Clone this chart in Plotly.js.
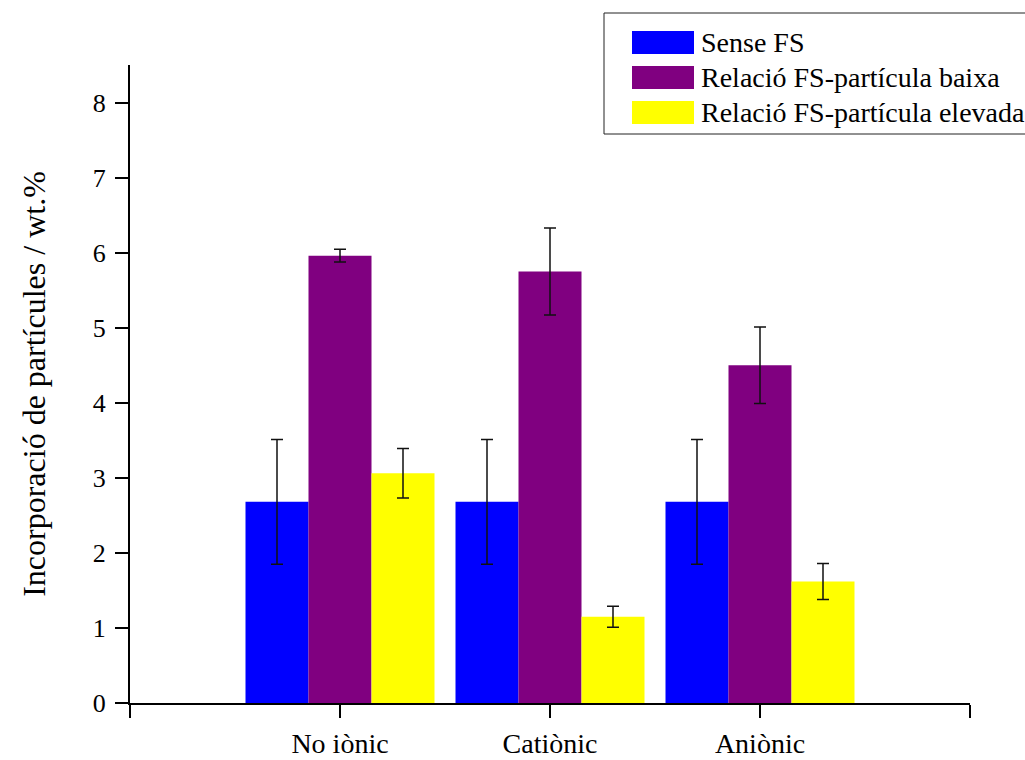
<!DOCTYPE html>
<html>
<head>
<meta charset="utf-8">
<script src="https://cdn.plot.ly/plotly-3.0.1.min.js"></script>
<style>
  html, body { margin: 0; padding: 0; background: #fff; }
  #chart { width: 1025px; height: 760px; }
</style>
</head>
<body>
<div id="chart"></div>
<script>
// Particle incorporation (wt.%) by surfactant type
const categories = ['No iònic', 'Catiònic', 'Aniònic'];
const seriesNames = ['Sense FS', 'Relació FS-partícula baixa', 'Relació FS-partícula elevada'];
const seriesColors = ['#0000ff', '#800080', '#ffff00'];

const senseFS = [2.68, 2.68, 2.68];
const senseFSErr = [0.83, 0.83, 0.83];

const baixa = [5.96, 5.75, 4.50];
const baixaErr = [0.085, 0.58, 0.51];

const elevada = [3.06, 1.15, 1.62];
const elevadaErr = [0.33, 0.14, 0.24];

const values = [senseFS, baixa, elevada];
const errors = [senseFSErr, baixaErr, elevadaErr];

const FONT = 'Liberation Serif, Times New Roman, serif';

const traces = values.map((v, i) => ({
  type: 'bar',
  name: seriesNames[i],
  x: [0, 1, 2],
  y: v,
  marker: { color: seriesColors[i], line: { width: 0 } },
  error_y: { type: 'data', array: errors[i], visible: true, color: '#111', thickness: 1.5, width: 6 },
  showlegend: false,
  hoverinfo: 'skip'
}));

// Plot-area geometry, used to place the boxed legend in paper units
const W = 1025, H = 760;
const M = { l: 130, r: 55, t: 65, b: 57 };
const pw = W - M.l - M.r, ph = H - M.t - M.b;
const px = x => (x - M.l) / pw;
const py = y => (H - M.b - y) / ph;

const shapes = [{
  type: 'rect', xref: 'paper', yref: 'paper',
  x0: px(604), x1: px(1030), y0: py(134), y1: py(13),
  line: { color: '#222', width: 1 }, fillcolor: 'rgba(0,0,0,0)'
}];
const annotations = [];
const rowTop = [31, 66, 101];
seriesNames.forEach((name, i) => {
  shapes.push({
    type: 'rect', xref: 'paper', yref: 'paper',
    x0: px(632), x1: px(694), y0: py(rowTop[i] + 23), y1: py(rowTop[i]),
    line: { width: 0 }, fillcolor: seriesColors[i]
  });
  annotations.push({
    xref: 'paper', yref: 'paper', x: px(699), y: py(rowTop[i] + 11.5),
    xanchor: 'left', yanchor: 'middle', showarrow: false,
    text: name, font: { family: FONT, size: 28, color: '#000' }
  });
});

const layout = {
  width: W, height: H,
  margin: M,
  paper_bgcolor: '#fff', plot_bgcolor: '#fff',
  barmode: 'group', bargap: 0.1, bargroupgap: 0,
  font: { family: FONT, color: '#000' },
  xaxis: {
    range: [-1, 3],
    tickvals: [-1, 0, 1, 2, 3],
    ticktext: ['', categories[0], categories[1], categories[2], ''],
    ticks: 'outside', ticklen: 13, tickwidth: 2, tickcolor: '#000',
    ticklabelstandoff: 1,
    showline: true, linewidth: 2, linecolor: '#000',
    showgrid: false, zeroline: false,
    tickfont: { family: FONT, size: 28, color: '#000' },
    fixedrange: true
  },
  yaxis: {
    range: [0, 8.5],
    dtick: 1, tick0: 0,
    ticks: 'outside', ticklen: 13, tickwidth: 2, tickcolor: '#000',
    ticklabelstandoff: 4,
    showline: true, linewidth: 2, linecolor: '#000',
    showgrid: false, zeroline: false,
    tickfont: { family: FONT, size: 26, color: '#000' },
    title: { text: 'Incorporació de partícules / wt.%', font: { family: FONT, size: 32, color: '#000' }, standoff: 38 },
    fixedrange: true
  },
  shapes: shapes,
  annotations: annotations,
  showlegend: false
};

Plotly.newPlot('chart', traces, layout, { displayModeBar: false, staticPlot: true });
</script>
</body>
</html>
